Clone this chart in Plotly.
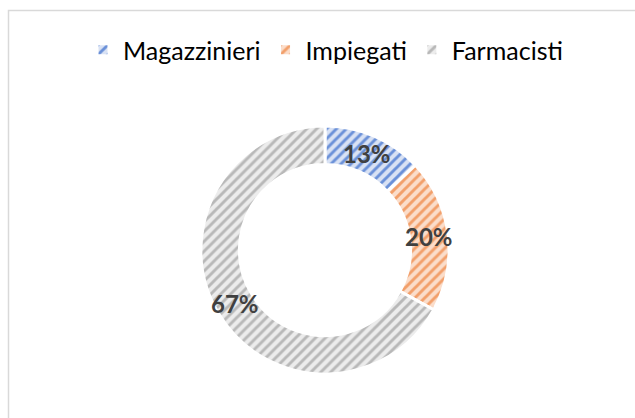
import math
import plotly.graph_objects as go

categories = ["Magazzinieri", "Impiegati", "Farmacisti"]
values = [13, 20, 67]
fg_colors = ["#6A90D8", "#F29F6A", "#B8B8B8"]
bg_colors = ["#D9E2F4", "#FBDDCA", "#ECECEC"]

W, H = 635, 418
cx, cy, r = 325, 250, 124
hole = 0.69

fig = go.Figure(go.Pie(
    labels=categories,
    values=values,
    sort=False,
    direction="clockwise",
    rotation=0,
    hole=hole,
    textinfo="none",
    hoverinfo="skip",
    marker=dict(
        colors=bg_colors,
        line=dict(color="white", width=3),
        pattern=dict(shape="/", fgcolor=fg_colors, bgcolor=bg_colors, size=7, solidity=0.42),
    ),
    domain=dict(x=[(cx - r) / W, (cx + r) / W], y=[(H - cy - r) / H, (H - cy + r) / H]),
))

# data labels placed at the middle of each ring segment
total = sum(values)
annotations = []
cum = 0
rm = r * (1 + hole) / 2
for v in values:
    mid = (cum + v / 2) / total * 2 * math.pi
    cum += v
    px = cx + rm * math.sin(mid)
    py = cy - rm * math.cos(mid)
    annotations.append(dict(
        x=px / W, y=(H - py) / H, xref="paper", yref="paper",
        text=f"{round(v / total * 100)}%", showarrow=False,
        xanchor="center", yanchor="middle",
        font=dict(family="Lato", size=24, color="#404040", weight="bold"),
    ))

fig.update_layout(
    width=W, height=H,
    margin=dict(l=0, r=0, t=0, b=0),
    paper_bgcolor="white",
    showlegend=True,
    annotations=annotations,
    legend=dict(
        orientation="h", x=0.5, xanchor="center", y=(H - 50) / H, yanchor="middle",
        font=dict(family="Lato", size=25, color="#000000"),
        itemwidth=30,
    ),
    shapes=[dict(type="rect", xref="paper", yref="paper",
                 x0=8.5 / W, x1=1.05, y0=-0.05, y1=(H - 10.5) / H,
                 line=dict(color="#D9D9D9", width=1.5))],
)
fig.update_layout(legend_x=(0.5 * W + 8) / W)

fig.write_html("out.html", config={"displayModeBar": False},
               post_script="document.body.style.margin='0';document.body.style.overflow='hidden';")
